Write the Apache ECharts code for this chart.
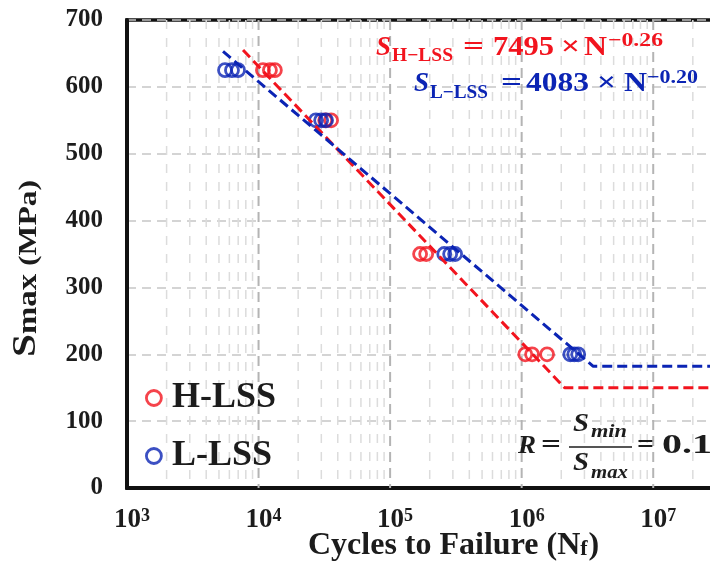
<!DOCTYPE html>
<html><head><meta charset="utf-8">
<script src="https://cdn.jsdelivr.net/npm/echarts/dist/echarts.min.js"></script>
<style>html,body{margin:0;padding:0;background:#fff}#c{width:710px;height:577px}</style>
</head><body><div id="c"></div>
<script>
// ---- data ----
const hN = [10800, 12200, 13300, 32100, 35600, 169000, 188000, 1065000, 1200000, 1560000];
const hS = [625, 625, 625, 550, 550, 350, 350, 200, 200, 200];
const lN = [5560, 6280, 6980, 27300, 29900, 32600, 258000, 286000, 312000, 2340000, 2510000, 2690000];
const lS = [625, 625, 625, 550, 550, 550, 350, 350, 350, 200, 200, 200];
const hFitN = [7620, 2120000, 31622777];
const hFitS = [655, 150, 150];
const lFitN = [5370, 3500000, 31622777];
const lFitS = [653, 182, 182];
const xMin = 1000, xMax = 31622777;
const yMin = 0, yMax = 700, yStep = 100;
const decades = [1e3, 1e4, 1e5, 1e6, 1e7];
const minorMult = [1, 2, 3, 4, 5, 6, 7, 8, 9];

const FONT = '"Liberation Serif", "Times New Roman", serif';
const RED = '#f2141e', BLUE = '#0b24b4', INK = '#1c1c1c';

const zip = (a, b) => a.map((v, i) => [v, b[i]]);
const vlines = [];
decades.forEach(d => minorMult.forEach(m => { const v = d * m; if (v > xMin && v < xMax) vlines.push([v, m === 1 ? 1 : 0]); }));

const ctx = document.createElement('canvas').getContext('2d');
function fontStr(size, italic) { return (italic ? 'italic ' : '') + 'bold ' + size + 'px ' + FONT; }
function measure(t, size, italic) { ctx.font = fontStr(size, italic); return ctx.measureText(t).width; }
function piece(t, x, w, base, size, color, italic) {
  const mw = measure(t, size, italic);
  return { type: 'text', x: x, y: base - 0.34 * size, scaleX: w ? w / mw : 1, z: 100, silent: true,
    style: { text: t, font: fontStr(size, italic), fill: color, textAlign: 'left', textVerticalAlign: 'middle', align: 'left', verticalAlign: 'middle' } };
}

const graphics = [];
// equation 1
graphics.push(
  piece('S', 376, null, 57, 27, RED, true),
  piece('H\u2212LSS', 392, 61, 63, 19, RED),
  piece('=', 463, 21, 57, 28, RED),
  piece('7495', 493, 61, 57, 27, RED),
  piece('\u00d7', 561, 19, 57, 28, RED),
  piece('N', 584, 23, 57, 27, RED),
  piece('\u22120.26', 608, 55, 48, 19, RED)
);
// equation 2
graphics.push(
  piece('S', 414, null, 93, 27, BLUE, true),
  piece('L\u2212LSS', 430, 58, 100, 19, BLUE),
  piece('=', 501, 21, 93, 28, BLUE),
  piece('4083', 526, 63, 93, 27, BLUE),
  piece('\u00d7', 597, 19, 93, 28, BLUE),
  piece('N', 624, 23, 93, 27, BLUE),
  piece('\u22120.20', 647, 51, 85, 19, BLUE)
);
// R = Smin/Smax = 0.1
graphics.push(
  piece('R', 518, 18, 455, 26, INK, true),
  piece('=', 541, 20, 455, 27, INK),
  piece('S', 573, 16, 433, 26, INK, true),
  piece('min', 591, 36, 438, 18, INK, true),
  { type: 'line', z: 100, silent: true, shape: { x1: 569, y1: 447, x2: 632, y2: 447 }, style: { stroke: INK, lineWidth: 1.6 } },
  piece('S', 573, 16, 472, 26, INK, true),
  piece('max', 591, 37, 479, 18, INK, true),
  piece('=', 637, 17, 455, 27, INK),
  piece('0.1', 662, 50, 455, 27, INK)
);
// x-axis title
(function () {
  const a = 'Cycles to Failure (N', b = 'f', c = ')';
  const wa = measure(a, 32), wb = measure(b, 22);
  let x = 308;
  graphics.push(piece(a, x, null, 557, 32, INK));
  graphics.push(piece(b, x + wa, null, 557, 22, INK));
  graphics.push(piece(c, x + wa + wb + 1, null, 557, 32, INK));
})();
// y-axis title (rotated)
(function () {
  const parts = [['S', 34], ['max', 27], [' (MPa)', 26]];
  let lx = 0; const kids = [];
  parts.forEach(p => {
    const w = measure(p[0], p[1]);
    kids.push({ type: 'text', x: lx, y: -0.34 * p[1], silent: true,
      style: { text: p[0], font: fontStr(p[1]), fill: INK, textAlign: 'left', textVerticalAlign: 'middle', align: 'left', verticalAlign: 'middle' } });
    lx += w;
  });
  graphics.push({ type: 'group', x: 38, y: 357, rotation: Math.PI / 2, scaleX: 177 / lx, z: 100, children: kids });
})();

const chart = echarts.init(document.getElementById('c'));
chart.setOption({
  animation: false,
  backgroundColor: '#fff',
  grid: { left: 127, top: 20, width: 592, height: 468, show: true, borderColor: '#111', borderWidth: 3.5, backgroundColor: 'transparent', outerBoundsMode: 'none', containLabel: false },
  legend: {
    data: [
      { name: 'H-LSS', icon: 'circle', itemStyle: { color: 'transparent', borderColor: RED, borderWidth: 2.8 } },
      { name: 'L-LSS', icon: 'circle', itemStyle: { color: 'transparent', borderColor: BLUE, borderWidth: 2.8 } }
    ],
    orient: 'vertical', left: 140, top: 375, itemWidth: 26, itemHeight: 15, itemGap: 22,
    textStyle: { fontFamily: FONT, fontWeight: 'bold', fontSize: 36, lineHeight: 36, color: INK }
  },
  xAxis: {
    type: 'log', logBase: 10, min: xMin, max: xMax,
    axisLine: { show: true, lineStyle: { color: '#111', width: 4 } },
    axisTick: { show: false }, splitLine: { show: false },
    axisLabel: {
      margin: 19, showMaxLabel: true,
      formatter: v => { const l = Math.log10(v), e = Math.round(l); return Math.abs(l - e) > 1e-6 ? '' : '{b|10}{s|' + e + '}'; },
      rich: {
        b: { fontFamily: FONT, fontWeight: 'bold', fontSize: 27, lineHeight: 26, color: INK, padding: [0, 0, 0, 10] },
        s: { fontFamily: FONT, fontWeight: 'bold', fontSize: 18, lineHeight: 16, color: INK, verticalAlign: 'top' }
      }
    }
  },
  yAxis: {
    type: 'value', min: yMin, max: yMax, interval: yStep,
    axisLine: { show: true, lineStyle: { color: '#111', width: 4 } },
    axisTick: { show: false },
    axisLabel: { margin: 24, fontFamily: FONT, fontWeight: 'bold', fontSize: 25, color: INK, padding: [5, 0, 0, 0] },
    splitLine: { show: true, lineStyle: { color: '#c6c6c6', width: 1.6, type: [9, 6] } }
  },
  series: [
    {
      type: 'custom', name: 'vgrid', z: 1, silent: true, data: vlines,
      encode: { x: 0, y: 1 },
      renderItem: (params, api) => {
        const v = api.value(0), major = api.value(1) === 1;
        const p1 = api.coord([v, yMax]), p0 = api.coord([v, yMin]);
        return { type: 'line', shape: { x1: p0[0], y1: p1[1], x2: p0[0], y2: p0[1] },
          style: { stroke: major ? '#b4b4b4' : '#dcdcdc', lineWidth: major ? 2 : 1.5, lineDash: major ? [10, 6] : [9, 9] } };
      }
    },
    { type: 'scatter', name: 'H-LSS', z: 3, data: zip(hN, hS), symbol: 'circle', symbolSize: 13,
      itemStyle: { color: 'transparent', borderColor: RED, borderWidth: 2.8 } },
    { type: 'scatter', name: 'L-LSS', z: 3, data: zip(lN, lS), symbol: 'circle', symbolSize: 13,
      itemStyle: { color: 'transparent', borderColor: BLUE, borderWidth: 2.8 } },
    { type: 'line', name: 'H-fit', z: 4, data: zip(hFitN, hFitS), symbol: 'none', silent: true,
      lineStyle: { color: RED, width: 3, type: [10, 5] } },
    { type: 'line', name: 'L-fit', z: 4, data: zip(lFitN, lFitS), symbol: 'none', silent: true,
      lineStyle: { color: BLUE, width: 3, type: [10, 5] } }
  ],
  graphic: graphics
});
</script>
</body></html>
